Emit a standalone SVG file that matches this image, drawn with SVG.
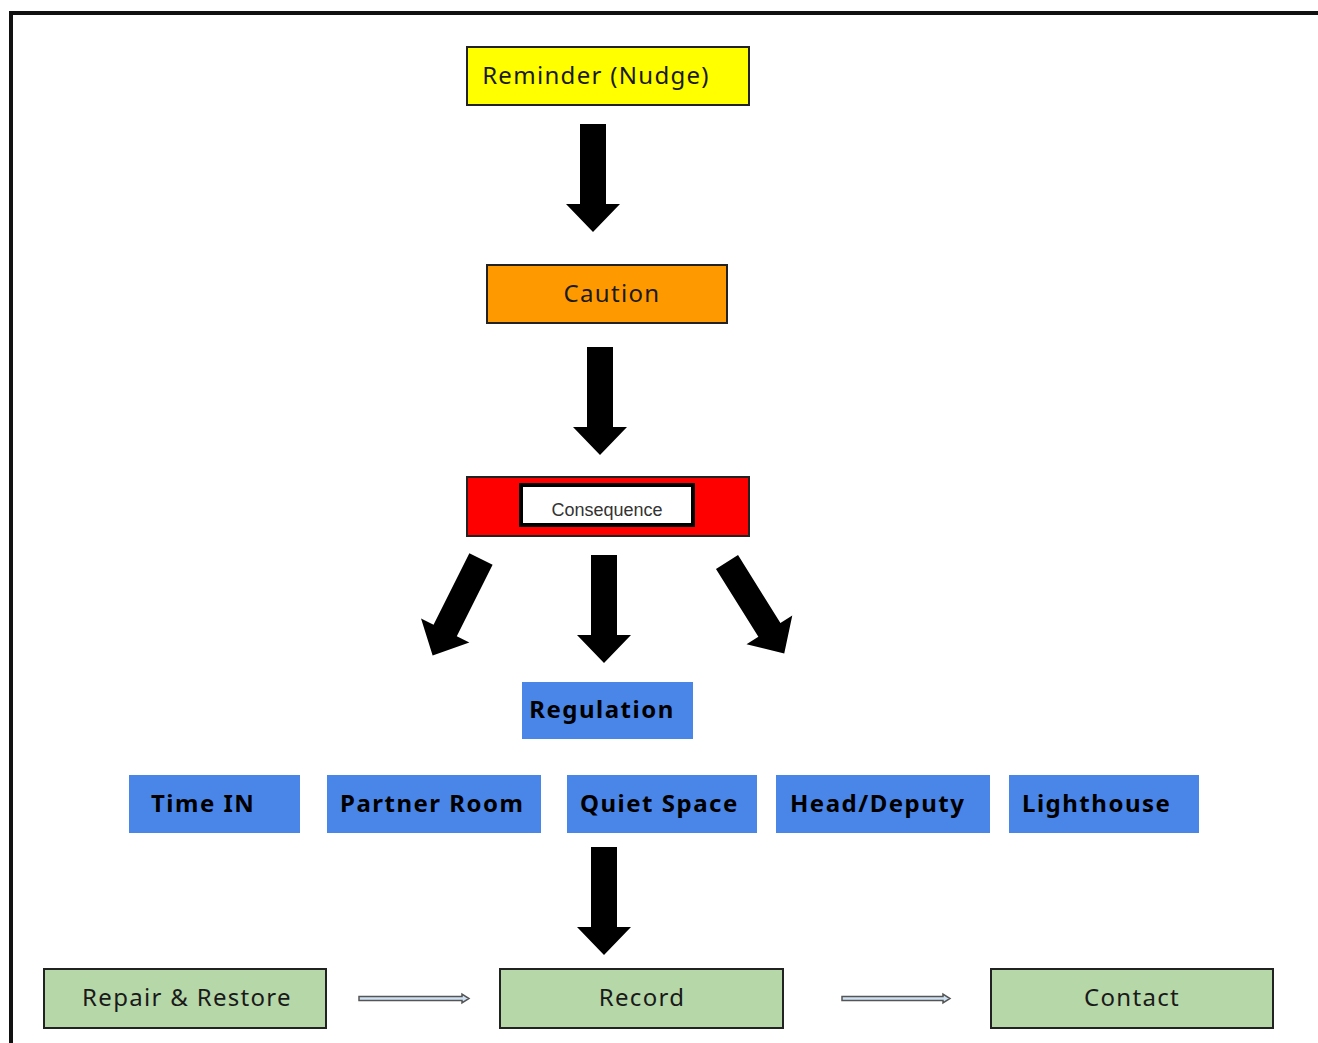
<svg xmlns="http://www.w3.org/2000/svg" width="1318" height="1043" viewBox="0 0 1318 1043">
<style>
.t{font-family:"Noto Sans","Open Sans",sans-serif;font-size:24px;fill:#1a1a1a;letter-spacing:1.3px}
.c{text-anchor:middle}
.b{font-weight:bold;fill:#000;letter-spacing:1.5px}
.box{stroke:#222;stroke-width:2}
.blue{fill:#4a86e8}
.green{fill:#b6d7a8;stroke:#222;stroke-width:2}
.ha{fill:#cfe2f3;stroke:#555;stroke-width:1.5}
</style>
<defs>
<path id="arr" d="M-13,0 H13 V80 H27 L0,108 L-27,80 H-13 Z" fill="#000"/>
</defs>
<rect width="1318" height="1043" fill="#fff"/>
<path d="M11,1043 V13 H1318" fill="none" stroke="#111" stroke-width="4"/>
<g id="reminder"><rect class="box" x="467" y="47" width="282" height="58" fill="#ffff00"/><text class="t c" x="596" y="84">Reminder (Nudge)</text></g>
<g id="caution"><rect class="box" x="487" y="265" width="240" height="58" fill="#ff9900"/><text class="t c" x="612" y="302">Caution</text></g>
<g id="consequence"><rect class="box" x="467" y="477" width="282" height="59" fill="#ff0000"/><rect x="521" y="485" width="172" height="40" fill="#fff" stroke="#000" stroke-width="4"/><text x="607" y="516" text-anchor="middle" font-family="Liberation Sans, Arial, sans-serif" font-size="18" fill="#333">Consequence</text></g>
<g id="regulation"><rect class="blue" x="522" y="682" width="171" height="57"/><text class="t b c" x="602" y="718">Regulation</text></g>
<g id="timein"><rect class="blue" x="129" y="775" width="171" height="58"/><text class="t b" x="151" y="812">Time IN</text></g>
<g id="partner"><rect class="blue" x="327" y="775" width="214" height="58"/><text class="t b" x="340" y="812">Partner Room</text></g>
<g id="quiet"><rect class="blue" x="567" y="775" width="190" height="58"/><text class="t b" x="580" y="812">Quiet Space</text></g>
<g id="head"><rect class="blue" x="776" y="775" width="214" height="58"/><text class="t b" x="790" y="812">Head/Deputy</text></g>
<g id="lighthouse"><rect class="blue" x="1009" y="775" width="190" height="58"/><text class="t b" x="1022" y="812">Lighthouse</text></g>
<g id="repair"><rect class="green" x="44" y="969" width="282" height="59"/><text class="t c" x="187" y="1006">Repair &amp; Restore</text></g>
<g id="record"><rect class="green" x="500" y="969" width="283" height="59"/><text class="t c" x="642" y="1006">Record</text></g>
<g id="contact"><rect class="green" x="991" y="969" width="282" height="59"/><text class="t c" x="1132" y="1006">Contact</text></g>
<g id="connectors">
<use href="#arr" transform="translate(593,124)"/>
<use href="#arr" transform="translate(600,347)"/>
<use href="#arr" transform="translate(604,555)"/>
<use href="#arr" transform="translate(481,559) rotate(26.6)"/>
<use href="#arr" transform="translate(727,562) rotate(-32)"/>
<use href="#arr" transform="translate(604,847)"/>
<path class="ha" d="M359,996.5 H462 V994 L469,998.5 L462,1003 V1000.5 H359 Z"/>
<path class="ha" d="M842,996.5 H943 V994 L950,998.5 L943,1003 V1000.5 H842 Z"/>
</g>
</svg>
